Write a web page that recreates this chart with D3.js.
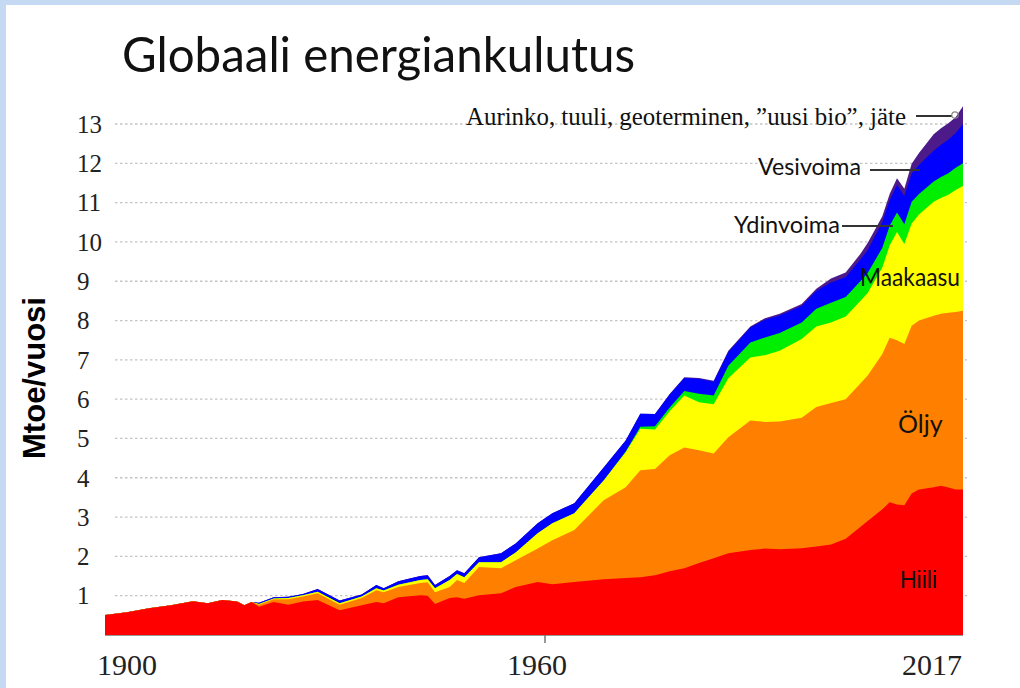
<!DOCTYPE html>
<html>
<head>
<meta charset="utf-8">
<script src="https://cdn.jsdelivr.net/npm/d3@7"></script>
<style>
html,body{margin:0;padding:0;background:#fff;}
svg{display:block;}
</style>
</head>
<body>
<svg id="chart" width="1020" height="688"></svg>
<script>
// ---- data (Gtoe per year) ----
const years = [1900,1903,1906,1909,1912,1914,1916,1918,1919,1920,
  1921,1923,1925,1927,1929,1932,1935,1937,1938,1940,
  1943,1944,1945,1947,1948,1949,1951,1954,1956,1959,
  1961,1964,1968,1971,1973,1975,1977,1979,1981,1983,
  1985,1988,1990,1992,1995,1997,1999,2001,2003,2004,
  2006,2007,2008,2009,2010,2011,2013,2014,2015,2016,
  2017];
const coal = [0.51,0.58,0.68,0.76,0.86,0.81,0.89,0.85,0.76,0.84,
  0.72,0.84,0.77,0.85,0.89,0.63,0.76,0.84,0.81,0.96,
  1.01,1.00,0.79,0.94,0.96,0.92,1.01,1.06,1.22,1.35,
  1.29,1.35,1.42,1.45,1.47,1.52,1.62,1.70,1.83,1.95,
  2.08,2.16,2.20,2.18,2.21,2.25,2.30,2.45,2.75,2.90,
  3.20,3.38,3.32,3.30,3.60,3.70,3.76,3.80,3.75,3.70,
  3.70];
const oil = [0,0,0,0,0,0,0,0,0,0,
  0.05,0.07,0.14,0.13,0.17,0.14,0.18,0.30,0.28,0.26,
  0.31,0.34,0.30,0.28,0.44,0.40,0.72,0.64,0.68,0.85,
  1.12,1.32,2.01,2.31,2.72,2.70,2.95,3.07,2.87,2.67,
  2.95,3.30,3.22,3.25,3.32,3.55,3.60,3.55,3.65,3.70,
  3.95,4.18,4.18,4.10,4.27,4.30,4.36,4.37,4.45,4.52,
  4.55];
const gas = [0,0,0,0,0,0,0,0,0,0,
  0.02,0.02,0.03,0.03,0.04,0.04,0.04,0.05,0.04,0.06,
  0.08,0.08,0.10,0.18,0.15,0.15,0.12,0.15,0.20,0.39,
  0.43,0.43,0.50,0.89,1.06,1.01,1.12,1.32,1.22,1.25,
  1.50,1.60,1.70,1.80,2.00,2.05,2.05,2.10,2.10,2.10,
  2.20,2.35,2.75,2.55,2.60,2.70,2.90,2.95,3.00,3.10,
  3.17];
const nuclear = [0,0,0,0,0,0,0,0,0,0,
  0,0,0,0,0,0,0,0,0,0,
  0,0,0,0,0,0,0,0,0,0,
  0,0,0,0.02,0.05,0.08,0.10,0.12,0.22,0.22,
  0.32,0.38,0.45,0.45,0.42,0.45,0.50,0.50,0.50,0.51,
  0.50,0.50,0.50,0.50,0.55,0.52,0.52,0.53,0.55,0.57,
  0.58];
const hydro = [0,0,0,0,0,0,0,0,0,0,
  0.03,0.03,0.03,0.03,0.07,0.07,0.05,0.08,0.06,0.09,
  0.10,0.10,0.08,0.10,0.10,0.10,0.13,0.23,0.23,0.25,
  0.26,0.25,0.33,0.28,0.33,0.31,0.33,0.33,0.38,0.35,
  0.35,0.38,0.45,0.45,0.42,0.45,0.52,0.50,0.55,0.58,
  0.65,0.65,0.70,0.72,0.72,0.74,0.78,0.82,0.85,0.88,
  1.00];
const other = [0,0,0,0,0,0,0,0,0,0,
  0,0,0,0,0,0,0,0,0,0,
  0,0,0,0,0,0,0,0,0,0,
  0,0,0,0,0,0,0.01,0.02,0.02,0.03,
  0.03,0.03,0.04,0.04,0.05,0.06,0.10,0.12,0.14,0.18,
  0.15,0.16,0.17,0.18,0.25,0.30,0.42,0.42,0.42,0.40,
  0.45];

const seriesKeys = ["coal","oil","gas","nuclear","hydro","other"];
const seriesColors = ["#ff0000","#ff8000","#ffff00","#00ee00","#0000ff","#4d1a8a"];
const yTickValues = [1,2,3,4,5,6,7,8,9,10,11,12,13];
const xTickLabels = [1900,1960,2017];
const xTickMarks = [1960];

// ---- build ----
const rows = years.map((yr,i)=>({year:yr, coal:coal[i], oil:oil[i], gas:gas[i],
  nuclear:nuclear[i], hydro:hydro[i], other:other[i]}));
const stacked = d3.stack().keys(seriesKeys)(rows);

const svg = d3.select("#chart");
const W = 1020, H = 688;

// page frame (light blue strip on the left and top)
svg.append("rect").attr("x",0).attr("y",0).attr("width",W).attr("height",H).attr("fill","#c6d9f3");
svg.append("rect").attr("x",6).attr("y",5).attr("width",W-6).attr("height",H-5).attr("fill","#ffffff");

const x = d3.scaleLinear().domain([1900,2017]).range([105,963]);
const y = d3.scaleLinear().domain([0,13]).range([635,124]);

// gridlines
svg.append("g").selectAll("line").data(yTickValues).join("line")
  .attr("x1",115).attr("x2",967)
  .attr("y1",d=>y(d)).attr("y2",d=>y(d))
  .attr("stroke","#c4c4c4").attr("stroke-width",1.3)
  .attr("stroke-dasharray","2.5,2.5");

// areas: each layer filled from baseline up to its cumulative top, top layer drawn first
const area = d3.area().x(d=>x(d.data.year)).y0(y(0)).y1(d=>y(d[1]));
const layers = stacked.map((s,i)=>({s, color:seriesColors[i]})).reverse();
svg.append("g").selectAll("path").data(layers).join("path")
  .attr("d",d=>area(d.s)).attr("fill",d=>d.color);

// bottom axis line + tick
svg.append("line").attr("x1",x(1900)).attr("x2",x(2017)).attr("y1",y(0)+0.5).attr("y2",y(0)+0.5)
  .attr("stroke","#9a9a9a").attr("stroke-width",1);
svg.append("g").selectAll("line").data(xTickMarks).join("line")
  .attr("x1",d=>x(d)).attr("x2",d=>x(d)).attr("y1",y(0)).attr("y2",y(0)+8)
  .attr("stroke","#777").attr("stroke-width",1.5);

// y tick labels
svg.append("g").selectAll("text").data(yTickValues).join("text")
  .attr("x",77).attr("y",d=>y(d)).attr("dy","0.35em")
  .attr("font-family","Liberation Serif, serif").attr("font-size",25).attr("fill","#222")
  .text(d=>d);

// x tick labels
svg.append("g").selectAll("text").data(xTickLabels).join("text")
  .attr("x",(d,i)=> i===0 ? x(d)-8 : (i===xTickLabels.length-1 ? x(d)-1 : x(d)-8))
  .attr("y",675)
  .attr("text-anchor",(d,i)=> i===0 ? "start" : (i===xTickLabels.length-1 ? "end" : "middle"))
  .attr("font-family","Liberation Serif, serif").attr("font-size",30).attr("fill","#222")
  .text(d=>d);

// y axis title
svg.append("text").attr("transform","translate(45,378) rotate(-90)")
  .attr("text-anchor","middle").attr("font-family","Liberation Sans, Arial, sans-serif")
  .attr("font-weight","bold").attr("font-size",31).attr("fill","#000")
  .text("Mtoe/vuosi");

// title
svg.append("text").attr("x",122).attr("y",72)
  .attr("font-family","Lato, sans-serif").attr("font-size",49).attr("fill","#111")
  .attr("textLength",513).attr("lengthAdjust","spacingAndGlyphs")
  .text("Globaali energiankulutus");

// annotations
const ann = svg.append("g");
ann.append("text").attr("x",906).attr("y",125).attr("text-anchor","end")
  .attr("font-family","Liberation Serif, serif").attr("font-size",26).attr("fill","#111")
  .attr("textLength",440).attr("lengthAdjust","spacingAndGlyphs")
  .text("Aurinko, tuuli, geoterminen, \u201duusi bio\u201d, jäte");
ann.append("line").attr("x1",916).attr("x2",952).attr("y1",116).attr("y2",116)
  .attr("stroke","#333").attr("stroke-width",2);
ann.append("circle").attr("cx",955).attr("cy",115).attr("r",3.2)
  .attr("fill","none").attr("stroke","#888").attr("stroke-width",1.2);

ann.append("text").attr("x",861).attr("y",175).attr("text-anchor","end")
  .attr("font-family","Lato, sans-serif").attr("font-size",24).attr("fill","#111")
  .attr("textLength",103).attr("lengthAdjust","spacingAndGlyphs").text("Vesivoima");
ann.append("line").attr("x1",870).attr("x2",920).attr("y1",170).attr("y2",170)
  .attr("stroke","#333").attr("stroke-width",2);

ann.append("text").attr("x",840).attr("y",233).attr("text-anchor","end")
  .attr("font-family","Lato, sans-serif").attr("font-size",24).attr("fill","#111")
  .attr("textLength",106).attr("lengthAdjust","spacingAndGlyphs").text("Ydinvoima");
ann.append("line").attr("x1",842).attr("x2",893).attr("y1",226).attr("y2",226)
  .attr("stroke","#333").attr("stroke-width",2);

ann.append("text").attr("x",860).attr("y",286)
  .attr("font-family","Lato, sans-serif").attr("font-size",25).attr("fill","#111")
  .attr("textLength",100).attr("lengthAdjust","spacingAndGlyphs").text("Maakaasu");

ann.append("text").attr("x",898).attr("y",433)
  .attr("font-family","Lato, sans-serif").attr("font-size",25).attr("fill","#111")
  .text("Öljy");

ann.append("text").attr("x",900).attr("y",588)
  .attr("font-family","Liberation Sans, Arial, sans-serif").attr("font-size",23).attr("fill","#111")
  .text("Hiili");
</script>
</body>
</html>
